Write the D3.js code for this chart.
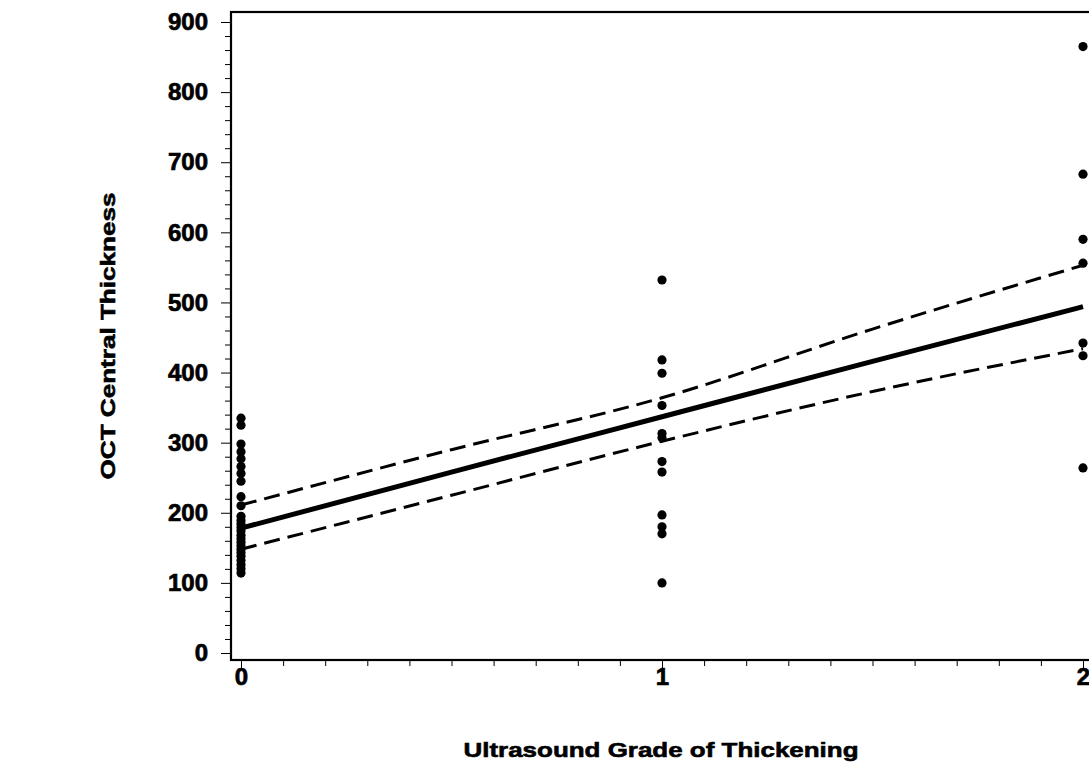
<!DOCTYPE html>
<html>
<head>
<meta charset="utf-8">
<script src="https://cdn.jsdelivr.net/npm/d3@7"></script>
<style>
  body { margin: 0; background: #fff; }
  text { font-family: "Liberation Sans", Arial, sans-serif; font-weight: bold; fill: #000; }
</style>
</head>
<body>
<div id="chart"></div>
<script>
// OCT thickness by ultrasound grade
var grade0 = [335, 325, 298, 287, 277, 266, 256, 245, 223, 210,
              195, 189, 184, 179, 174, 168, 163, 158, 153, 148,
              143, 138, 132, 126, 120, 114];
var grade1 = [532, 418, 399, 353, 313, 307, 273, 258, 197, 180, 170, 100];
var grade2 = [865, 683, 590, 556, 442, 424, 264];

// fitted line and confidence band, read at x = 0, .5, 1, 1.5, 2
var bandX = [0, 0.5, 1, 1.5, 2];
var fit   = [178, 258, 337, 416, 494];
var upper = [211, 290, 364, 462, 553];
var lower = [148, 225, 302, 373, 434];

var xTicks = [0, 1, 2];
var yTicks = [0, 100, 200, 300, 400, 500, 600, 700, 800, 900];

var width = 1089, height = 765;

var svg = d3.select('#chart')
  .append('svg')
    .attr('width', width)
    .attr('height', height);

var x = d3.scaleLinear().domain([0, 2]).range([241, 1083]);
var y = d3.scaleLinear().domain([0, 900]).range([653, 22]);

var frameLeft = 231, frameTop = 12, frameBottom = 660, frameRight = 1094;

// frame
svg.append('rect')
  .attr('x', frameLeft)
  .attr('y', frameTop)
  .attr('width', frameRight - frameLeft)
  .attr('height', frameBottom - frameTop)
  .attr('fill', 'none')
  .attr('stroke', '#000')
  .attr('stroke-width', 2.2);

// y axis: major every 100, minor every 20, ticks outward
var yAxis = d3.axisLeft(y)
  .tickValues(yTicks)
  .tickSize(10)
  .tickPadding(13)
  .tickFormat(d3.format('d'));
var yMinor = d3.axisLeft(y)
  .tickValues(d3.range(0, 901, 20).filter(function(v) { return v % 100; }))
  .tickSize(6)
  .tickFormat('');

svg.append('g')
  .attr('transform', 'translate(' + frameLeft + ',0)')
  .call(yAxis);
svg.append('g')
  .attr('transform', 'translate(' + frameLeft + ',0)')
  .call(yMinor);

// x axis: major at whole grades, minor every 0.1
var xAxis = d3.axisBottom(x)
  .tickValues(xTicks)
  .tickSize(8)
  .tickPadding(0)
  .tickFormat(d3.format('d'));
var xMinor = d3.axisBottom(x)
  .tickValues(d3.range(1, 20).filter(function(v) { return v % 10; }).map(function(v) { return v / 10; }))
  .tickSize(6)
  .tickFormat('');

svg.append('g')
  .attr('transform', 'translate(0,' + frameBottom + ')')
  .call(xAxis);
svg.append('g')
  .attr('transform', 'translate(0,' + frameBottom + ')')
  .call(xMinor);

svg.selectAll('.domain').remove();
svg.selectAll('.tick line').attr('stroke', '#000').attr('stroke-width', 1);
svg.selectAll('.tick text')
  .style('font-family', '"Liberation Sans", Arial, sans-serif')
  .style('font-weight', 'bold')
  .style('font-size', '24px')
  .attr('fill', '#000')
  .attr('stroke', '#000')
  .attr('stroke-width', 0.7);

// regression line and band
var line = d3.line()
  .x(function(d) { return x(d[0]); })
  .y(function(d) { return y(d[1]); })
  .curve(d3.curveMonotoneX);

function pairs(vals) {
  return bandX.map(function(v, i) { return [v, vals[i]]; });
}

svg.append('path')
  .attr('d', line(pairs(fit)))
  .attr('fill', 'none')
  .attr('stroke', '#000')
  .attr('stroke-width', 5);

[upper, lower].forEach(function(b) {
  svg.append('path')
    .attr('d', line(pairs(b)))
    .attr('fill', 'none')
    .attr('stroke', '#000')
    .attr('stroke-width', 3)
    .attr('stroke-dasharray', '16,8');
});

// points
var pts = []
  .concat(grade0.map(function(v) { return [0, v]; }))
  .concat(grade1.map(function(v) { return [1, v]; }))
  .concat(grade2.map(function(v) { return [2, v]; }));

svg.selectAll('circle.pt')
  .data(pts)
  .enter().append('circle')
    .attr('class', 'pt')
    .attr('cx', function(d) { return x(d[0]); })
    .attr('cy', function(d) { return y(d[1]); })
    .attr('r', 4.6)
    .attr('fill', '#000');

// axis titles
svg.append('text')
  .attr('x', 661)
  .attr('y', 757)
  .attr('text-anchor', 'middle')
  .attr('textLength', 395)
  .attr('lengthAdjust', 'spacingAndGlyphs')
  .attr('stroke', '#000')
  .attr('stroke-width', 0.6)
  .style('font-size', '21px')
  .text('Ultrasound Grade of Thickening');

svg.append('text')
  .attr('transform', 'translate(115,336) rotate(-90)')
  .attr('text-anchor', 'middle')
  .attr('textLength', 287)
  .attr('lengthAdjust', 'spacingAndGlyphs')
  .attr('stroke', '#000')
  .attr('stroke-width', 0.6)
  .style('font-size', '20px')
  .text('OCT Central Thickness');
</script>
</body>
</html>
